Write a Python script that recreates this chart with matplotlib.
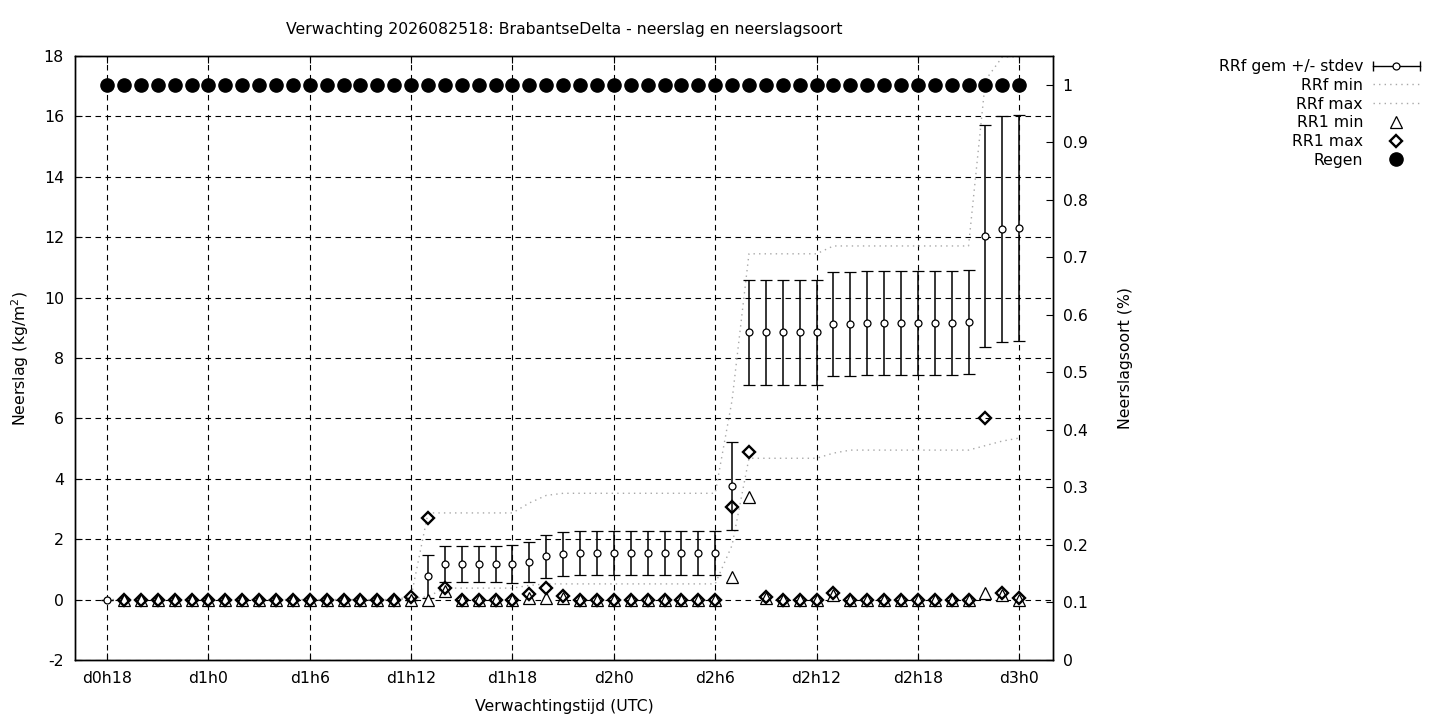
import numpy as np
import matplotlib
matplotlib.use('Agg')
import matplotlib.pyplot as plt
from matplotlib.lines import Line2D
from matplotlib.legend_handler import HandlerLine2D, HandlerTuple

plt.rcParams['font.family'] = ['DejaVu Sans']
plt.rcParams['font.size'] = 11.3
plt.rcParams['axes.unicode_minus'] = False

# uren na d0h0, ieder uur van d0h18 t/m d3h0
uren = np.arange(18, 73)

# RRf gemiddelde (cumulatief) en standaardafwijking
rrf_gem = [0.0, 0.0, 0.0, 0.0, 0.0, 0.0, 0.0, 0.0, 0.0, 0.0,
           0.0, 0.0, 0.0, 0.0, 0.0, 0.0, 0.0, 0.0, 0.0, 0.77,
           1.17, 1.17, 1.17, 1.17, 1.18, 1.24, 1.43, 1.51, 1.54, 1.54,
           1.54, 1.54, 1.54, 1.54, 1.54, 1.54, 1.54, 3.76, 8.85, 8.85,
           8.85, 8.85, 8.85, 9.12, 9.12, 9.15, 9.15, 9.15, 9.15, 9.15,
           9.15, 9.18, 12.04, 12.28, 12.31]
rrf_std = [0.0, 0.0, 0.0, 0.0, 0.0, 0.0, 0.0, 0.0, 0.0, 0.0,
           0.0, 0.0, 0.0, 0.0, 0.0, 0.0, 0.0, 0.0, 0.0, 0.72,
           0.60, 0.60, 0.60, 0.60, 0.62, 0.66, 0.72, 0.73, 0.72, 0.72,
           0.72, 0.72, 0.72, 0.72, 0.72, 0.72, 0.72, 1.47, 1.73, 1.73,
           1.73, 1.73, 1.73, 1.72, 1.72, 1.72, 1.72, 1.72, 1.72, 1.72,
           1.72, 1.72, 3.67, 3.74, 3.74]

# RRf min / max (cumulatief)
rrf_min = [0.0, 0.0, 0.0, 0.0, 0.0, 0.0, 0.0, 0.0, 0.0, 0.0,
           0.0, 0.0, 0.0, 0.0, 0.0, 0.0, 0.0, 0.0, 0.03, 0.10,
           0.38, 0.38, 0.38, 0.38, 0.38, 0.47, 0.52, 0.52, 0.52, 0.52,
           0.52, 0.52, 0.52, 0.52, 0.52, 0.52, 0.52, 1.80, 4.68, 4.68,
           4.68, 4.68, 4.68, 4.85, 4.95, 4.95, 4.95, 4.95, 4.95, 4.95,
           4.95, 4.95, 5.10, 5.25, 5.35]
rrf_max = [0.0, 0.0, 0.0, 0.0, 0.0, 0.0, 0.0, 0.0, 0.0, 0.0,
           0.0, 0.0, 0.0, 0.0, 0.0, 0.0, 0.0, 0.0, 0.10, 2.87,
           2.87, 2.87, 2.87, 2.87, 2.87, 3.20, 3.45, 3.52, 3.52, 3.52,
           3.52, 3.52, 3.52, 3.52, 3.52, 3.52, 3.52, 6.60, 11.45, 11.45,
           11.45, 11.45, 11.45, 11.71, 11.71, 11.71, 11.71, 11.71, 11.71, 11.71,
           11.71, 11.71, 17.20, 17.97, 17.97]

# RR1 (uurlijks) min / max
nan = np.nan
rr1_min = [nan, 0.0, 0.0, 0.0, 0.0, 0.0, 0.0, 0.0, 0.0, 0.0,
           0.0, 0.0, 0.0, 0.0, 0.0, 0.0, 0.0, 0.0, 0.0, 0.0,
           0.30, 0.0, 0.0, 0.0, 0.0, 0.05, 0.04, 0.06, 0.0, 0.0,
           0.0, 0.0, 0.0, 0.0, 0.0, 0.0, 0.0, 0.74, 3.41, 0.05,
           0.0, 0.0, 0.0, 0.15, 0.0, 0.0, 0.0, 0.0, 0.0, 0.0,
           0.0, 0.0, 0.23, 0.15, 0.0]
rr1_max = [nan, 0.0, 0.0, 0.0, 0.0, 0.0, 0.0, 0.0, 0.0, 0.0,
           0.0, 0.0, 0.0, 0.0, 0.0, 0.0, 0.0, 0.0, 0.10, 2.71,
           0.37, 0.0, 0.0, 0.0, 0.0, 0.20, 0.40, 0.12, 0.0, 0.0,
           0.0, 0.0, 0.0, 0.0, 0.0, 0.0, 0.0, 3.05, 4.90, 0.08,
           0.0, 0.0, 0.0, 0.23, 0.0, 0.0, 0.0, 0.0, 0.0, 0.0,
           0.0, 0.0, 6.00, 0.23, 0.04]

# neerslagsoort: regen (fractie)
regen = [1.0] * 55

tick_uren = [18, 24, 30, 36, 42, 48, 54, 60, 66, 72]
tick_labels = ['d0h18', 'd1h0', 'd1h6', 'd1h12', 'd1h18',
               'd2h0', 'd2h6', 'd2h12', 'd2h18', 'd3h0']

fig = plt.figure(figsize=(14.4, 7.2), dpi=100)
ax = fig.add_axes([75/1440, 60/720, 978/1440, 604/720])
ax2 = ax.twinx()

grijs = '#a8a8a8'

ax.errorbar(uren, rrf_gem, yerr=rrf_std, fmt='o', ms=5, mfc='white', mec='black',
            mew=0.9, ecolor='black', elinewidth=1.1, capsize=4, capthick=1.0, zorder=3)
ax.plot(uren, rrf_min, color=grijs, lw=1.0, ls=(0, (1, 3)), zorder=2)
ax.plot(uren, rrf_max, color=grijs, lw=1.0, ls=(0, (1, 3)), zorder=2)
ax.plot(uren, rr1_min, ls='none', marker='^', ms=8, mfc='white', mec='black', mew=0.9, zorder=4)
ax.plot(uren, rr1_max, ls='none', marker='D', ms=6.5, mfc='none', mec='black', mew=1.7, zorder=5)
ax2.plot(uren, regen, ls='none', marker='o', ms=9.5, color='black')

ax.set_xlim(16.1, 74.0)
ax.set_ylim(-2, 18)
ax2.set_ylim(0, 1.05)
ax.set_xticks(tick_uren)
ax.set_xticklabels(tick_labels)
ax.set_yticks(np.arange(-2, 19, 2))
ax2.set_yticks(np.arange(0, 1.01, 0.1))
ax2.yaxis.set_major_formatter(matplotlib.ticker.FormatStrFormatter('%g'))

ax.grid(True, color='black', lw=0.8, ls=(0, (5, 4)))
ax.tick_params(direction='in', length=5, top=True, right=False, pad=8)
ax2.tick_params(direction='in', length=5, pad=7)
for a in (ax, ax2):
    for s in a.spines.values():
        s.set_linewidth(1.0)

ax.set_title('Verwachting 2026082518: BrabantseDelta - neerslag en neerslagsoort',
             fontsize=11.3, pad=16)
ax.set_xlabel('Verwachtingstijd (UTC)', labelpad=9)
ax.set_ylabel('Neerslag (kg/m$^2$)', labelpad=9)
ax2.set_ylabel('Neerslagsoort (%)', labelpad=22)

# legenda in gnuplot-stijl: tekst rechts uitgelijnd, symbool rechts
h_caps = Line2D([], [], color='black', lw=1.0, marker='|', ms=7, mew=1.0)
h_circ = Line2D([], [], ls='none', marker='o', ms=5, mfc='white', mec='black', mew=0.9)
h_min = Line2D([], [], color=grijs, lw=1.0, ls=(0, (1, 3)))
h_max = Line2D([], [], color=grijs, lw=1.0, ls=(0, (1, 3)))
h_rr1min = Line2D([], [], ls='none', marker='^', ms=8, mfc='white', mec='black', mew=0.9)
h_rr1max = Line2D([], [], ls='none', marker='D', ms=6.5, mfc='none', mec='black', mew=1.7)
h_regen = Line2D([], [], ls='none', marker='o', ms=9.5, color='black')

fig.legend([(h_caps, h_circ), h_min, h_max, h_rr1min, h_rr1max, h_regen],
           ['RRf gem +/- stdev', 'RRf min', 'RRf max', 'RR1 min', 'RR1 max', 'Regen'],
           handler_map={h_caps: HandlerLine2D(numpoints=2, marker_pad=0),
                        tuple: HandlerTuple(ndivide=1)},
           loc='upper right', bbox_to_anchor=(1420/1440, 1 - 59/720),
           frameon=False, markerfirst=False, borderaxespad=0, borderpad=0,
           handlelength=3.0, handletextpad=0.63, labelspacing=0.24, fontsize=11.3)

fig.savefig('out.png', dpi=100)
